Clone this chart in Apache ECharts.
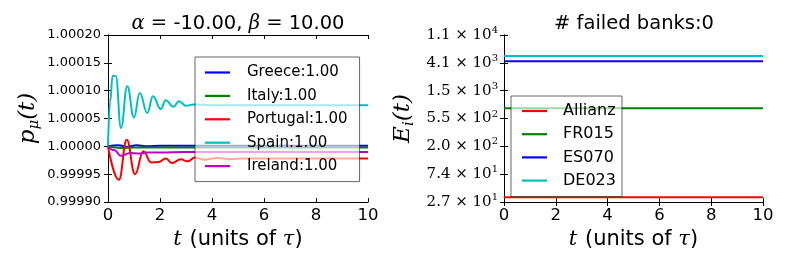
<!DOCTYPE html>
<html>
<head>
<meta charset="utf-8">
<script src="https://cdn.jsdelivr.net/npm/echarts@6/dist/echarts.min.js"></script>
<style>
html,body{margin:0;padding:0;background:#fff;}
#chart{width:789px;height:271px;}
</style>
</head>
<body>
<div id="chart"></div>
<script>
// ---------- DATA ----------
const countries = ['Greece:1.00', 'Italy:1.00', 'Portugal:1.00', 'Spain:1.00', 'Ireland:1.00'];

const greeceT = [0, 0.4, 0.75, 1.1, 1.5, 2.0, 3.0, 10];
const greeceP = [1.0, 1.000002, 0.999999, 1.000002, 1.0, 1.000001, 1.000001, 1.000001];

const italyT = [0, 0.5, 1.0, 2.0, 10];
const italyP = [1.0, 0.999997, 0.999998, 0.999998, 0.999998];

const portugalT = [0, 0.42, 0.72, 1.04, 1.36, 1.66, 1.95, 2.22, 2.47, 2.8, 3.05, 3.35, 3.7, 4.2, 4.7, 5.2, 6.0, 10];
const portugalP = [1.0, 0.99994, 1.000012, 0.99995, 0.999991, 0.999971, 0.999972, 0.999978, 0.99997, 0.999977, 0.999973, 0.99998, 0.999976, 0.999979, 0.999977, 0.999978, 0.999978, 0.999978];

const spainT = [0, 0.08, 0.18, 0.3, 0.5, 0.74, 1.0, 1.22, 1.51, 1.73, 2.03, 2.22, 2.52, 2.73, 3.0, 3.3, 4.0, 10];
const spainP = [1.0, 1.00008, 1.000127, 1.000126, 1.000033, 1.000108, 1.000052, 1.000096, 1.00006, 1.00009, 1.000067, 1.000083, 1.000071, 1.000081, 1.000073, 1.000075, 1.000074, 1.000074];

const irelandT = [0, 0.25, 0.49, 0.85, 1.2, 1.5, 2.0, 3.0, 10];
const irelandP = [1.0, 0.999993, 0.999983, 0.999988, 0.999987, 0.999989, 0.999989, 0.99999, 0.99999];

const banks = ['Allianz', 'FR015', 'ES070', 'DE023'];
const bankEquity = [32.5, 790, 4300, 5160];
const bankTime = [0, 10];

const xTicks = [0, 2, 4, 6, 8, 10];
const leftYTickLabels = ['0.99990', '0.99995', '1.00000', '1.00005', '1.00010', '1.00015', '1.00020'];
const rightTickMantissa = ['2.7', '7.4', '2.0', '5.5', '1.5', '4.1', '1.1'];
const rightTickExp = ['1', '1', '2', '2', '3', '3', '4'];
const rightTickBase = 27.3; // value of lowest log tick (ticks spaced by factor e)

// ---------- STYLE ----------
const countryColors = ['#0000ff', '#008000', '#ff0000', '#00bfbf', '#bf00bf'];
const bankColors = ['#ff0000', '#008000', '#0000ff', '#00bfbf'];
const SANS = 'DejaVu Sans';
const SERIF = 'DejaVu Serif';

const chart = echarts.init(document.getElementById('chart'), null, {renderer: 'canvas'});

const pair = (T, V) => T.map((t, i) => [t, V[i]]);
const countrySeries = [
  pair(greeceT, greeceP), pair(italyT, italyP), pair(portugalT, portugalP),
  pair(spainT, spainP), pair(irelandT, irelandP)
].map((d, i) => ({
  name: countries[i], type: 'line', xAxisIndex: 0, yAxisIndex: 0,
  data: d, symbol: 'none', smooth: 0.45, smoothMonotone: 'x',
  lineStyle: {color: countryColors[i], width: 2}, itemStyle: {color: countryColors[i]},
  z: 2 + i * 0.01
}));

const bankSeries = banks.map((b, i) => ({
  name: b, type: 'line', xAxisIndex: 2, yAxisIndex: 2,
  data: bankTime.map(t => [t, Math.log(bankEquity[i] / rightTickBase)]),
  symbol: 'none',
  lineStyle: {color: bankColors[i], width: 2}, itemStyle: {color: bankColors[i]}
}));

const tickStyle = {show: true, inside: true, length: 4, lineStyle: {color: '#000', width: 1}};
const lineStyleAx = {show: true, lineStyle: {color: '#000', width: 1}};

function xAx(grid, pos, labels) {
  const a = {
    type: 'value', gridIndex: grid, position: pos, min: 0, max: 10, interval: 2,
    axisLine: lineStyleAx, axisTick: tickStyle, splitLine: {show: false},
    axisLabel: {show: labels, color: '#000', fontFamily: SANS, fontSize: 16.5, margin: 5}
  };
  if (labels) {
    a.name = '{m|t}{g| }{s|(units of }{m|τ}{s|)}';
    a.nameLocation = 'middle';
    a.nameGap = 25;
    a.nameTextStyle = {rich: {
      m: {fontFamily: SERIF, fontStyle: 'italic', fontSize: 21, color: '#000'},
      g: {fontFamily: SANS, fontSize: 21, color: '#000', padding: [0, 1, 0, 0]},
      s: {fontFamily: SANS, fontSize: 21, color: '#000'}
    }};
  }
  return a;
}

const legendCommon = {
  orient: 'vertical', icon: 'rect', itemWidth: 25, itemHeight: 2.2,
  backgroundColor: 'rgba(255,255,255,0.65)', borderColor: 'rgba(0,0,0,0.6)', borderWidth: 1,
  borderRadius: 0, selectedMode: false,
  formatter: (n) => '{a|' + n + '}'
};

const option = {
  animation: false,
  backgroundColor: '#fff',
  grid: [
    {left: 108, top: 35, width: 260, height: 167},
    {left: 504, top: 35, width: 259, height: 167}
  ],
  xAxis: [xAx(0, 'bottom', true), xAx(0, 'top', false), xAx(1, 'bottom', true), xAx(1, 'top', false)],
  yAxis: [
    {
      type: 'value', gridIndex: 0, position: 'left', min: 0.9999, max: 1.0002, interval: 0.00005,
      axisLine: lineStyleAx, axisTick: tickStyle, splitLine: {show: false},
      axisLabel: {color: '#000', fontFamily: SANS, fontSize: 13, margin: 7,
        formatter: (v) => leftYTickLabels[Math.round((v - 0.9999) / 0.00005)]},
      name: '{i|p}{sub|μ}{i|(t)}', nameLocation: 'middle', nameGap: 66,
      nameTextStyle: {rich: {
        i: {fontFamily: SERIF, fontStyle: 'italic', fontSize: 23, color: '#000'},
        sub: {fontFamily: SERIF, fontStyle: 'italic', fontSize: 15, color: '#000', padding: [12, 0, 0, 0]}
      }}
    },
    {
      type: 'value', gridIndex: 0, position: 'right', min: 0.9999, max: 1.0002, interval: 0.00005,
      axisLine: lineStyleAx, axisTick: tickStyle, splitLine: {show: false}, axisLabel: {show: false}
    },
    {
      type: 'value', gridIndex: 1, position: 'left', min: 0, max: 6, interval: 1,
      axisLine: lineStyleAx, axisTick: tickStyle, splitLine: {show: false},
      axisLabel: {color: '#000', margin: 6,
        formatter: (v) => {
          const k = Math.round(v);
          return '{b|' + rightTickMantissa[k] + ' × 10}{p|' + rightTickExp[k] + '}';
        },
        rich: {
          b: {fontFamily: SERIF, fontSize: 15, color: '#000'},
          p: {fontFamily: SERIF, fontSize: 10, color: '#000', padding: [0, 0, 9, 0]}
        }
      },
      name: '{i|E}{sub|i}{i|(t)}', nameLocation: 'middle', nameGap: 87,
      nameTextStyle: {rich: {
        i: {fontFamily: SERIF, fontStyle: 'italic', fontSize: 23, color: '#000'},
        sub: {fontFamily: SERIF, fontStyle: 'italic', fontSize: 15, color: '#000', padding: [12, 0, 0, 0]}
      }}
    },
    {
      type: 'value', gridIndex: 1, position: 'right', min: 0, max: 6, interval: 1,
      axisLine: lineStyleAx, axisTick: tickStyle, splitLine: {show: false}, axisLabel: {show: false}
    }
  ],
  legend: [
    Object.assign({}, legendCommon, {
      data: countries, left: 195, top: 57, itemGap: 8.4,
      padding: [8, 12, 8, 10],
      textStyle: {rich: {a: {fontFamily: SANS, fontSize: 15, color: '#000', padding: [0, 0, 0, 12]}}}
    }),
    Object.assign({}, legendCommon, {
      data: banks, left: 511, top: 96, itemGap: 7.2,
      padding: [7, 6, 8, 11],
      textStyle: {rich: {a: {fontFamily: SANS, fontSize: 16, color: '#000', padding: [0, 0, 0, 11]}}}
    })
  ],
  graphic: [
    {
      type: 'text', x: 238, y: 24,
      style: {
        text: '{m|α}{r| = }{s|-10.00, }{m|β}{r| = }{s|10.00}',
        align: 'center', verticalAlign: 'middle',
        rich: {
          m: {fontFamily: SERIF, fontStyle: 'italic', fontSize: 19.5, fill: '#000'},
          r: {fontFamily: SERIF, fontSize: 19.5, fill: '#000'},
          s: {fontFamily: SANS, fontSize: 19.5, fill: '#000'}
        }
      }
    },
    {
      type: 'text', x: 634, y: 24,
      style: {text: '# failed banks:0', align: 'center', verticalAlign: 'middle',
        fontFamily: SANS, fontSize: 19.5, fill: '#000'}
    }
  ],
  series: countrySeries.concat(bankSeries)
};
chart.setOption(option);
</script>
</body>
</html>
